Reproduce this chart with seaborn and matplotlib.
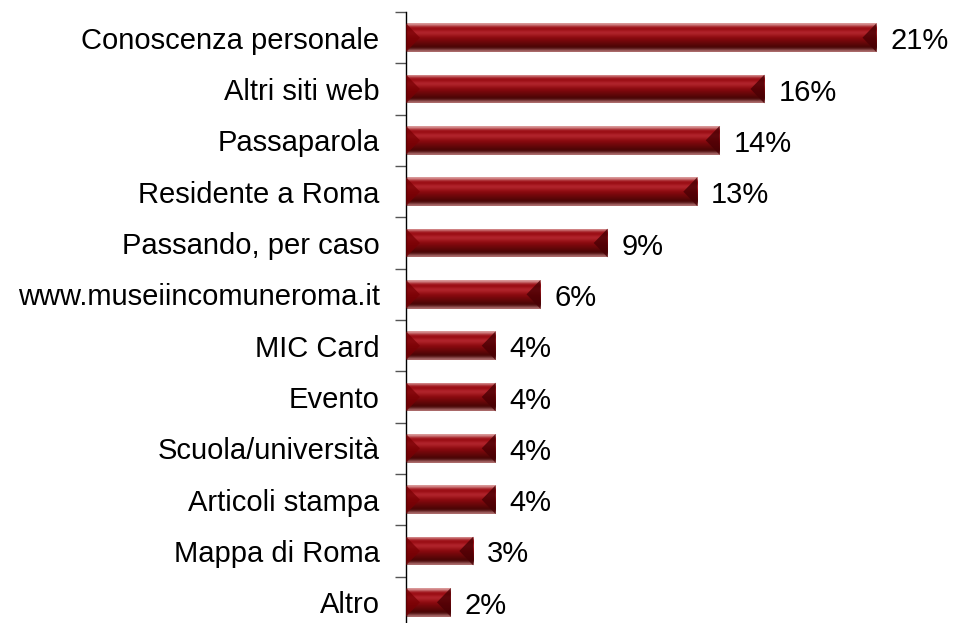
import matplotlib
matplotlib.use("Agg")
import matplotlib.pyplot as plt
import numpy as np
import pandas as pd
import seaborn as sns
from matplotlib.colors import to_rgb
from matplotlib.patches import Polygon
from matplotlib.transforms import offset_copy

categories = [
    "Conoscenza personale",
    "Altri siti web",
    "Passaparola",
    "Residente a Roma",
    "Passando, per caso",
    "www.museiincomuneroma.it",
    "MIC Card",
    "Evento",
    "Scuola/università",
    "Articoli stampa",
    "Mappa di Roma",
    "Altro",
]
values = [21, 16, 14, 13, 9, 6, 4, 4, 4, 4, 3, 2]

# vertical shading of a bar, top to bottom
shade = ["#dca0a0", "#9e0e16", "#980c12", "#b82a32", "#a41a20", "#8c0a10",
         "#7a080c", "#66070a", "#540606", "#440505", "#b07070"]

df = pd.DataFrame({"source": categories, "pct": values})

sns.set_style("white")
plt.rcParams["font.family"] = ["Liberation Sans", "DejaVu Sans"]
plt.rcParams["text.color"] = "black"
plt.rcParams["ytick.color"] = "black"

fig = plt.figure(figsize=(9.54, 6.23), dpi=100)
ax = fig.add_axes([406 / 954, -5 / 623, 548 / 954, 616 / 623])

sns.barplot(data=df, x="pct", y="source", orient="h", color="#8c0a10",
            width=0.56, ax=ax, saturation=1)

grad = np.array([to_rgb(c) for c in shade])[:, None, :]
bevel = 0.62
for patch in list(ax.patches):
    x0, y0 = patch.get_x(), patch.get_y()
    w, h = patch.get_width(), patch.get_height()
    img = ax.imshow(grad, aspect="auto", interpolation="bicubic",
                    extent=[x0, x0 + w, y0 + h, y0], zorder=2)
    img.set_clip_path(patch)
    b = min(bevel, w / 2)
    ym = y0 + h / 2
    ax.add_patch(Polygon([(x0, y0), (x0 + b, ym), (x0, y0 + h)],
                         closed=True, facecolor="#7a0004", alpha=0.75,
                         edgecolor="none", zorder=3))
    ax.add_patch(Polygon([(x0 + w, y0), (x0 + w - b, ym), (x0 + w, y0 + h)],
                         closed=True, facecolor="#4a0004", alpha=0.8,
                         edgecolor="none", zorder=3))

# baseline sits half a cap height below the bar centre
label_tr = offset_copy(ax.transData, fig=fig, x=0, y=-11.5, units="dots")
for i, v in enumerate(values):
    ax.text(v + 0.62, i, f"{v}%", va="baseline", ha="left", fontsize=21,
            color="black", transform=label_tr)

ax.set_xlim(0, 548 / 22.4)
ax.set_ylim(len(categories) - 0.5, -0.5)
ax.set_xlabel("")
ax.set_ylabel("")
ax.set_xticks([])
for side in ["top", "right", "bottom"]:
    ax.spines[side].set_visible(False)
ax.spines["left"].set_color("black")
ax.spines["left"].set_linewidth(1.0)

ax.set_yticks(np.arange(len(categories)))
ax.set_yticklabels(categories, fontsize=21, color="black")
ax.set_yticks(np.arange(len(categories) + 1) - 0.5, minor=True)
ax.tick_params(axis="y", which="major", length=0, pad=19)
ax.tick_params(axis="y", which="minor", length=8, width=1, color="#555555",
               left=True)

fig.savefig("out.png", dpi=100)
